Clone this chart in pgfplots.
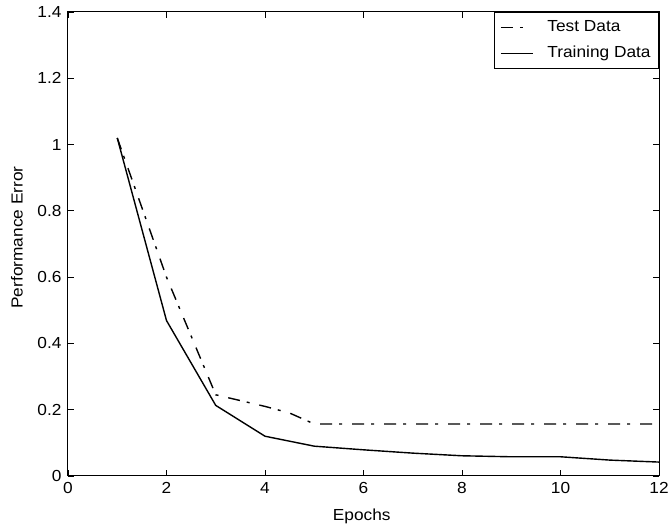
\documentclass[border=0pt]{standalone}
\usepackage{fontspec}
\setmainfont{Liberation Sans}[FakeStretch=1.08]
\usepackage{pgfplots}
\pgfplotsset{compat=1.18}
\begin{document}
\fontsize{16}{19}\selectfont
\begin{tikzpicture}
\begin{axis}[
  scale only axis,
  width=591pt, height=464pt,
  xmin=0, xmax=12, ymin=0, ymax=1.4,
  xtick={0,2,...,12},
  ytick={0,0.2,0.4,0.6,0.8,1,1.2,1.4},
  yticklabels={0,0.2,0.4,0.6,0.8,1,1.2,1.4},
  /pgf/number format/assume math mode=true,
  tick align=inside,
  major tick length=6pt,
  tick style={black, line width=0.9pt},
  axis line style={line width=1pt},
  every tick label/.append style={font=\fontsize{16}{19}\selectfont},
  xticklabel style={yshift=-1pt},
  yticklabel style={xshift=-1pt},
  xlabel={Epochs}, ylabel={Performance Error},
  label style={font=\fontsize{16}{19}\selectfont},
  xlabel style={at={(axis description cs:0.497,0)}, anchor=base, yshift=-44pt},
  ylabel style={at={(axis description cs:-0.0863,0.514)}, anchor=center},
  legend style={at={(rel axis cs:1,1)}, anchor=north east, draw=black, line width=0.9pt,
    font=\fontsize{16}{19}\selectfont, row sep=8pt, inner xsep=6pt, inner ysep=6.5pt,
    /tikz/every odd column/.append style={column sep=12pt}},
  legend cell align=left,
  legend image code/.code={\draw[#1] (0pt,0pt) -- (32pt,0pt);},
]
\addplot[black, line width=1.4pt, dash pattern=on 12pt off 7pt on 3pt off 10pt] coordinates {
(1,1.02) (2,0.60) (3,0.245) (4,0.21) (4.5,0.19) (5,0.157) (6,0.157) (7,0.157) (8,0.157) (9,0.157) (10,0.157) (11,0.157) (12,0.157)
};
\addlegendentry{Test Data}
\addplot[black, line width=1.4pt] coordinates {
(1,1.02) (2,0.469) (3,0.213) (4,0.12) (5,0.09) (6,0.079) (7,0.069) (8,0.061) (9,0.058) (10,0.058) (11,0.048) (12,0.042)
};
\addlegendentry{Training Data}
\coordinate (SW) at (rel axis cs:0,0);
\coordinate (NE) at (rel axis cs:1,1);
\end{axis}
\pgfresetboundingbox
\path (SW) ++(-68pt,-51pt) coordinate (BL);
\path (NE) ++(10pt,12pt) coordinate (TR);
\path[use as bounding box] (BL) rectangle (TR);
\end{tikzpicture}
\end{document}
